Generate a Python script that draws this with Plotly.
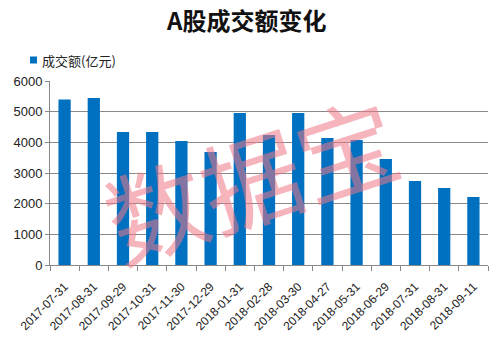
import plotly.graph_objects as go

dates = ["2017-07-31", "2017-08-31", "2017-09-29", "2017-10-31", "2017-11-30",
         "2017-12-29", "2018-01-31", "2018-02-28", "2018-03-30", "2018-04-27",
         "2018-05-31", "2018-06-29", "2018-07-31", "2018-08-31", "2018-09-11"]
turnover = [5400, 5445, 4336, 4336, 4043, 3684, 4956, 4239, 4956, 4141,
            4076, 3456, 2739, 2511, 2217]
y_ticks = [0, 1000, 2000, 3000, 4000, 5000, 6000]
series_name = "成交额(亿元)"
title_text = "A股成交额变化"

cjk = "Noto Sans CJK SC, Noto Sans, sans-serif"
bar_color = "#0070C0"

fig = go.Figure()
fig.add_trace(go.Bar(
    x=dates, y=turnover, name=series_name,
    marker=dict(color=bar_color, line=dict(width=0)),
    width=0.42, showlegend=False,
))

fig.update_layout(
    width=492, height=339,
    paper_bgcolor="white", plot_bgcolor="white",
    margin=dict(l=50, r=4, t=81, b=74, autoexpand=False),
    showlegend=False,
    font=dict(family=cjk, color="#222222"),
)

fig.update_xaxes(
    type="category", tickangle=-45,
    tickfont=dict(family="Liberation Sans, Arial", size=12, color="#222222"),
    showline=True, linecolor="#888888", linewidth=1,
    ticks="outside", ticklen=5, tickcolor="#888888", tickson="boundaries",
    ticklabelstandoff=9,
    showgrid=False, automargin=False,
)
fig.update_yaxes(
    range=[0, 6000], tickvals=y_ticks,
    tickfont=dict(family="Liberation Sans, Arial", size=13, color="#222222"),
    showgrid=True, gridcolor="#8a8a8a", gridwidth=1,
    showline=True, linecolor="#888888", linewidth=1,
    ticks="outside", ticklen=4, tickcolor="#888888",
    zeroline=False, automargin=False,
)

# title as annotation
fig.add_annotation(text="<b>" + title_text + "</b>", xref="paper", yref="paper",
                   x=(246 - 50) / 438, y=(265 - 19) / 184,
                   xanchor="center", yanchor="middle", showarrow=False,
                   font=dict(family=cjk, size=24, color="#111111"))

# manual legend
fig.add_shape(type="rect", xref="paper", yref="paper",
              x0=(30 - 50) / 438, x1=(37 - 50) / 438,
              y0=(265 - 63.5) / 184, y1=(265 - 56.5) / 184,
              fillcolor=bar_color, line=dict(width=0))
fig.add_annotation(text=series_name, xref="paper", yref="paper",
                   x=(40 - 50) / 438, y=(265 - 60) / 184,
                   xanchor="left", yanchor="middle", showarrow=False,
                   font=dict(family=cjk, size=13, color="#222222"))

fig.add_annotation(
    text="数据宝", xref="paper", yref="paper",
    x=(250 - 50) / 438, y=(265 - 176) / 184,
    showarrow=False, textangle=-18,
    font=dict(family=cjk, size=100, color="rgba(238,120,135,0.55)"),
)

fig.write_html("out.html")
